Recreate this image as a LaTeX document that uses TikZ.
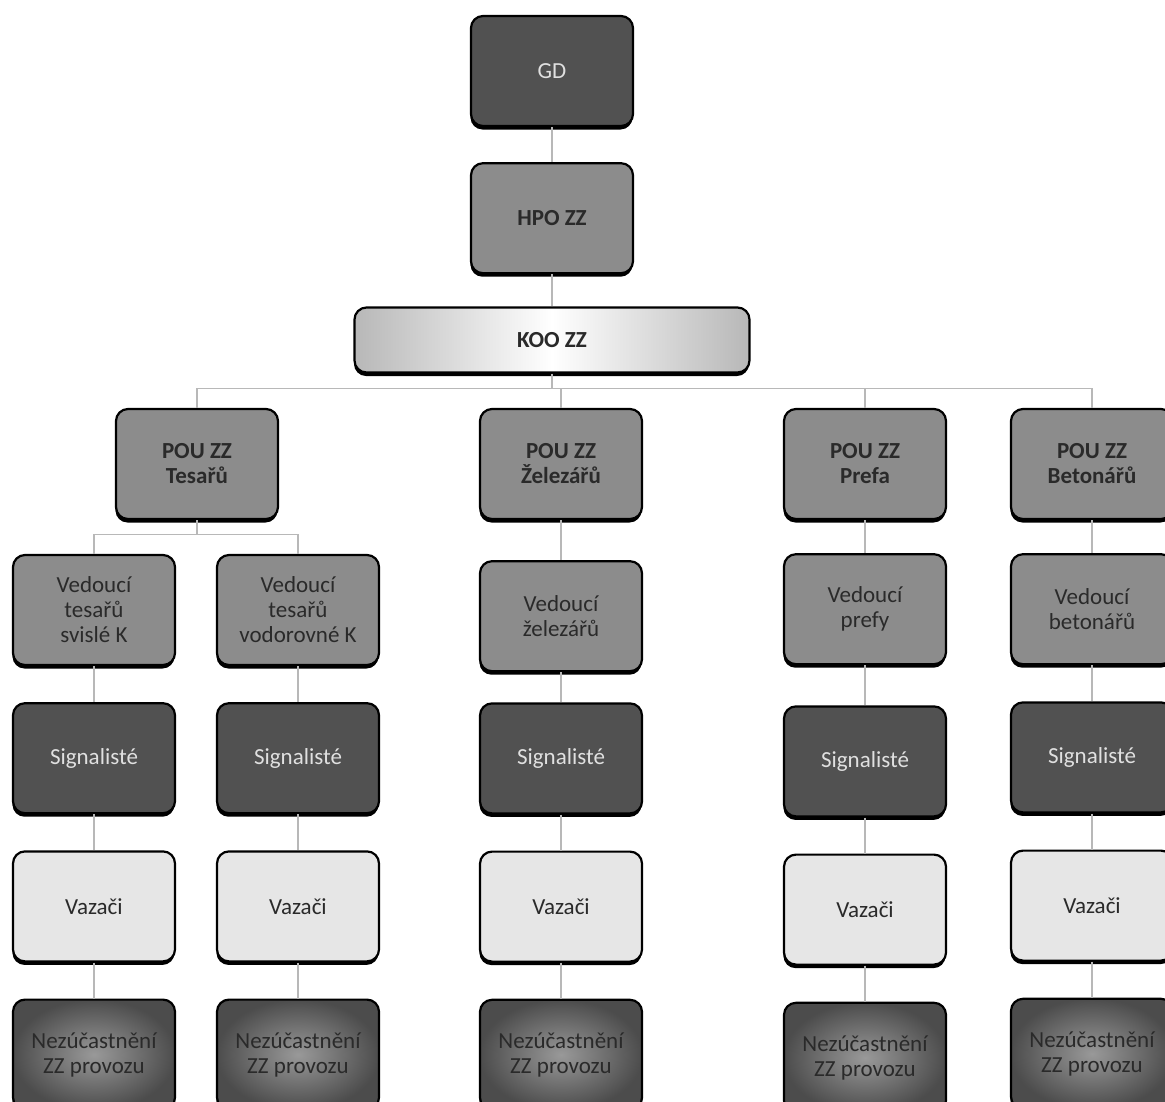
\documentclass[tikz,border=0pt]{standalone}
\usepackage{fontspec}
\setmainfont{Carlito}
\usepackage{tikz}
\usetikzlibrary{positioning,shadows}
\definecolor{orgdark}{HTML}{515151}
\definecolor{orgmid}{HTML}{8C8C8C}
\definecolor{orglight}{HTML}{E6E6E6}
\definecolor{orgline}{HTML}{B8B8B8}
\definecolor{orgtext}{HTML}{2A2A2A}
\tikzset{
  basebox/.style={rounded corners=12pt, draw=black, line width=2.2pt, align=center, minimum width=162pt, minimum height=110pt, inner sep=4pt, font=\fontsize{23}{25}\selectfont, drop shadow={shadow xshift=-0.5pt, shadow yshift=-3.5pt, opacity=1, fill=black}},
  darkbox/.style={basebox, fill=orgdark, text=black!12},
  midbox/.style={basebox, fill=orgmid, text=orgtext},
  headbox/.style={midbox, font=\fontsize{23}{25}\selectfont\bfseries},
  lightbox/.style={basebox, fill=orglight, text=orgtext},
  gradbox/.style={basebox, inner color=black!40, outer color=black!70, text=orgtext},
  koobox/.style={basebox, minimum width=395pt, minimum height=65pt, left color=black!28, right color=black!28, middle color=white, text=orgtext, font=\fontsize{23}{25}\selectfont\bfseries},
  link/.style={draw=orgline, line width=1.2pt}
}
\begin{document}
\begin{tikzpicture}[x=1pt, y=-1pt, node distance=36pt]
  \clip (0,0) rectangle (1165,1101);
  \node[darkbox] (GD) at (552,71) {GD};
  \node[headbox, below=35pt of GD] (HPO) {HPO ZZ};
  \node[koobox] (KOO) at (552,340) {KOO ZZ};

  \node[headbox] (T) at (197,464) {POU ZZ\\Tesařů};
  \node[headbox] (Z) at (561,464) {POU ZZ\\Železářů};
  \node[headbox] (P) at (865,464) {POU ZZ\\Prefa};
  \node[headbox] (B) at (1092,464) {POU ZZ\\Betonářů};

  \node[midbox] (T1) at (94,610) {Vedoucí\\tesařů\\svislé K};
  \node[midbox] (T2) at (298,610) {Vedoucí\\tesařů\\vodorovné K};
  \node[midbox, below=40pt of Z] (Z1) {Vedoucí\\železářů};
  \node[midbox, below=33pt of P] (P1) {Vedoucí\\prefy};
  \node[midbox, below=33pt of B] (B1) {Vedoucí\\betonářů};

  \node[darkbox, below=of T1] (T1s) {Signalisté};
  \node[darkbox, below=of T2] (T2s) {Signalisté};
  \node[darkbox, below=30pt of Z1] (Zs) {Signalisté};
  \node[darkbox, below=40pt of P1] (Ps) {Signalisté};
  \node[darkbox, below=of B1] (Bs) {Signalisté};

  \node[lightbox, below=of T1s] (T1v) {Vazači};
  \node[lightbox, below=of T2s] (T2v) {Vazači};
  \node[lightbox, below=of Zs] (Zv) {Vazači};
  \node[lightbox, below=of Ps] (Pv) {Vazači};
  \node[lightbox, below=of Bs] (Bv) {Vazači};

  \node[gradbox, below=of T1v] (T1n) {Nezúčastnění\\ZZ provozu};
  \node[gradbox, below=of T2v] (T2n) {Nezúčastnění\\ZZ provozu};
  \node[gradbox, below=of Zv] (Zn) {Nezúčastnění\\ZZ provozu};
  \node[gradbox, below=of Pv] (Pn) {Nezúčastnění\\ZZ provozu};
  \node[gradbox, below=of Bv] (Bn) {Nezúčastnění\\ZZ provozu};

  \coordinate (bus) at ([yshift=-15pt]KOO.south);
  \coordinate (tbus) at ([yshift=-14pt]T.south);

  \draw[link] (GD) -- (HPO);
  \draw[link] (HPO) -- (KOO);
  \draw[link] (KOO.south) -- (bus);
  \draw[link] (bus) -| (T.north);
  \draw[link] (bus) -| (Z.north);
  \draw[link] (bus) -| (P.north);
  \draw[link] (bus) -| (B.north);
  \draw[link] (T.south) -- (tbus);
  \draw[link] (tbus) -| (T1.north);
  \draw[link] (tbus) -| (T2.north);
  \draw[link] (Z) -- (Z1);
  \draw[link] (P) -- (P1);
  \draw[link] (B) -- (B1);
  \draw[link] (T1) -- (T1s) -- (T1v) -- (T1n);
  \draw[link] (T2) -- (T2s) -- (T2v) -- (T2n);
  \draw[link] (Z1) -- (Zs) -- (Zv) -- (Zn);
  \draw[link] (P1) -- (Ps) -- (Pv) -- (Pn);
  \draw[link] (B1) -- (Bs) -- (Bv) -- (Bn);
\end{tikzpicture}
\end{document}
